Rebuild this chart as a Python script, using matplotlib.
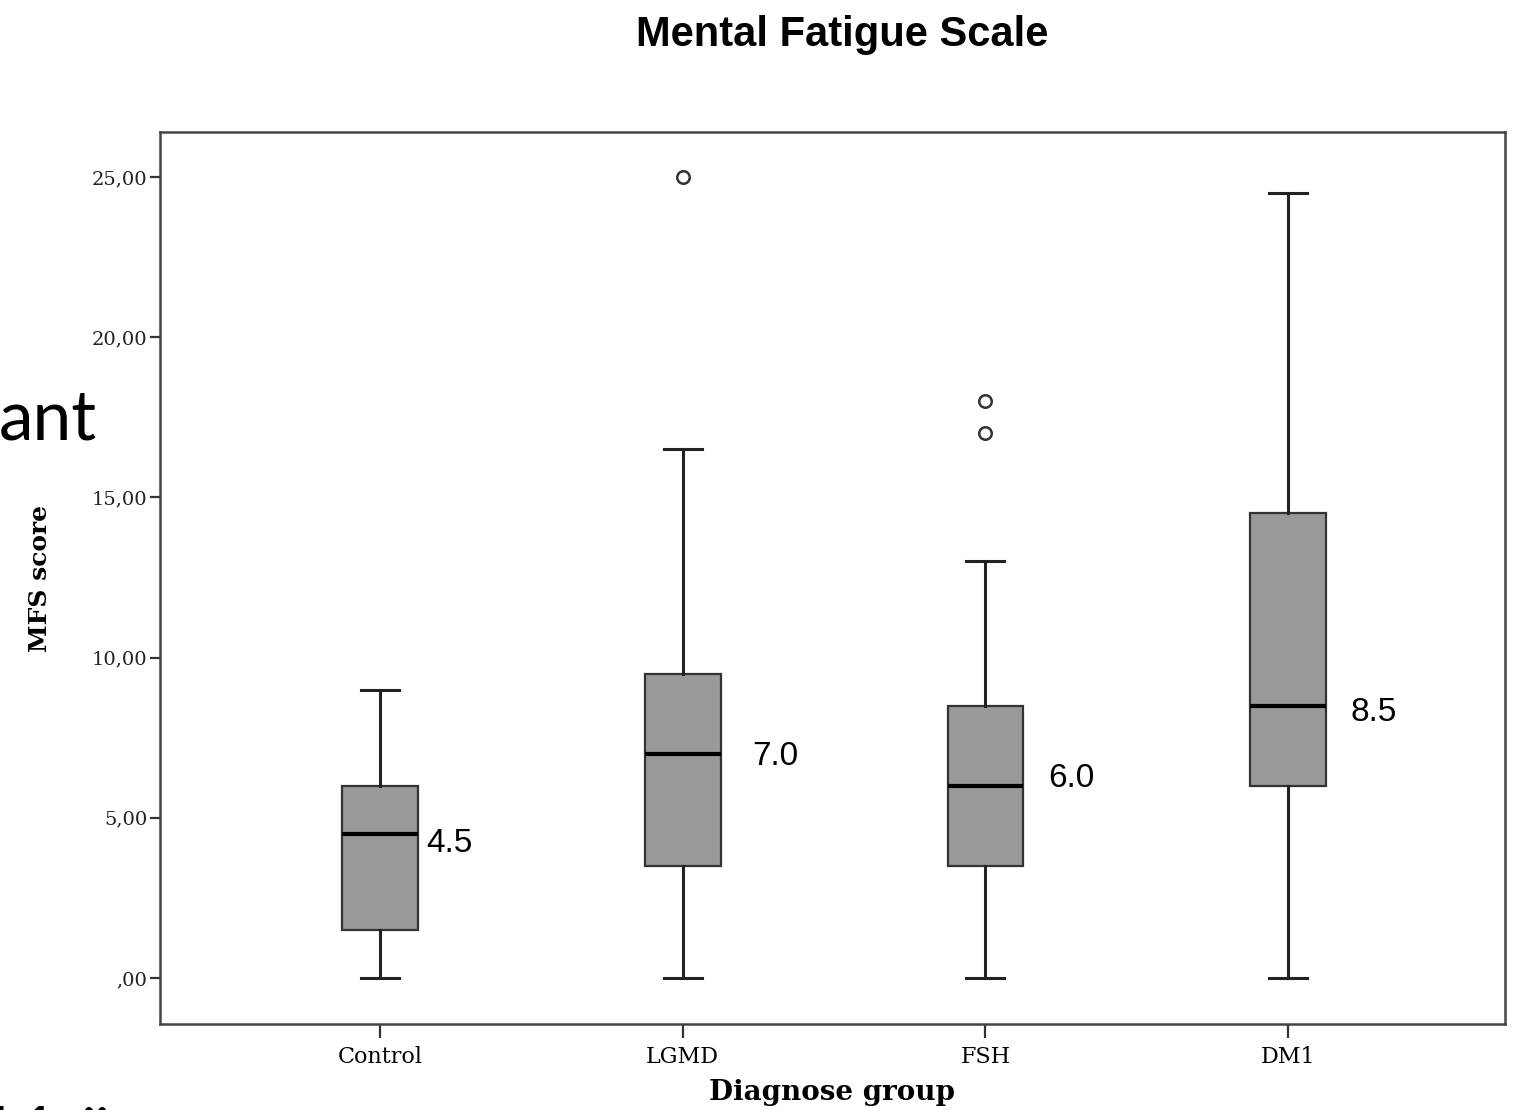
"""
Mental Fatigue Scale boxplot (SPSS-style) recreated with matplotlib.
"""

import matplotlib
matplotlib.use('Agg')
import matplotlib.pyplot as plt

GROUPS = ['Control', 'LGMD', 'FSH', 'DM1']
WHISK_LO = [0.0, 0.0, 0.0, 0.0]
Q1 = [1.5, 3.5, 3.5, 6.0]
MEDIANS = [4.5, 7.0, 6.0, 8.5]
Q3 = [6.0, 9.5, 8.5, 14.5]
WHISK_HI = [9.0, 16.5, 13.0, 24.5]
OUTLIERS = [[], [25.0], [17.0, 18.0], []]
MEDIAN_LABELS = ['4.5', '7.0', '6.0', '8.5']

YTICKS = [0, 5, 10, 15, 20, 25]
YTICK_LABELS = [',00', '5,00', '10,00', '15,00', '20,00', '25,00']

# label placement (offset from box centre, y in data units)
LABEL_DX = [0.152, 0.231, 0.208, 0.205]
LABEL_Y = [4.21, 6.9, 6.21, 8.27]

BOX_COLOR = '#999999'
EDGE = '#333333'


def main():
    fig = plt.figure(figsize=(15.15, 11.1), dpi=100)
    ax = fig.add_axes([160 / 1515, 86 / 1110, 1345 / 1515, 892 / 1110])

    stats = []
    for i, g in enumerate(GROUPS):
        stats.append({'label': g, 'whislo': WHISK_LO[i], 'q1': Q1[i], 'med': MEDIANS[i],
                      'q3': Q3[i], 'whishi': WHISK_HI[i], 'fliers': OUTLIERS[i]})

    pos = list(range(len(GROUPS)))
    ax.bxp(stats, positions=pos, widths=0.25, patch_artist=True, showfliers=True,
           boxprops=dict(facecolor=BOX_COLOR, edgecolor=EDGE, linewidth=1.6),
           medianprops=dict(color='black', linewidth=3.0),
           whiskerprops=dict(color='#222222', linewidth=2.2),
           capprops=dict(color='#222222', linewidth=2.2),
           capwidths=0.125,
           flierprops=dict(marker='o', markerfacecolor='white', markeredgecolor='#333333',
                           markersize=9, markeredgewidth=1.8, linestyle='none'))

    for i, lab in enumerate(MEDIAN_LABELS):
        ax.text(pos[i] + LABEL_DX[i], LABEL_Y[i], lab, fontsize=24,
                family='Liberation Sans', ha='left', va='center')

    ax.set_xlim(-0.727, 3.717)
    ax.set_ylim(-1.436, 26.40)
    ax.set_yticks(YTICKS)
    ax.set_yticklabels(YTICK_LABELS, family='DejaVu Serif', fontsize=14, color='#222222')
    ax.set_xticks(pos)
    ax.set_xticklabels(GROUPS, family='DejaVu Serif', fontsize=16)
    ax.tick_params(axis='y', length=7, width=1.6, color='#333333', pad=2)
    ax.tick_params(axis='x', length=10, width=1.6, color='#333333', pad=6)
    for sp in ax.spines.values():
        sp.set_color('#444444')
        sp.set_linewidth(1.8)

    ax.set_ylabel('MFS score', family='DejaVu Serif', fontsize=18, fontweight='bold')
    ax.yaxis.set_label_coords(-0.080, 0.5)
    ax.set_xlabel('Diagnose group', family='DejaVu Serif', fontsize=20, fontweight='bold')
    ax.xaxis.set_label_coords(0.5, -0.062)

    fig.text(842 / 1515, 1 - 35 / 1110, 'Mental Fatigue Scale', family='Liberation Sans',
             fontsize=30, fontweight='bold', ha='center', va='center')

    # slide text fragments behind the chart
    fig.text(97 / 1515, 1 - 440 / 1110, 'ant', family='Lato', fontsize=50,
             ha='right', va='baseline')
    fig.text(-22 / 1515, 1 - 1156 / 1110, '11 ü', family='Lato', fontsize=50,
             ha='left', va='baseline')

    fig.savefig('out.png', dpi=100)
    plt.close(fig)


if __name__ == '__main__':
    main()
